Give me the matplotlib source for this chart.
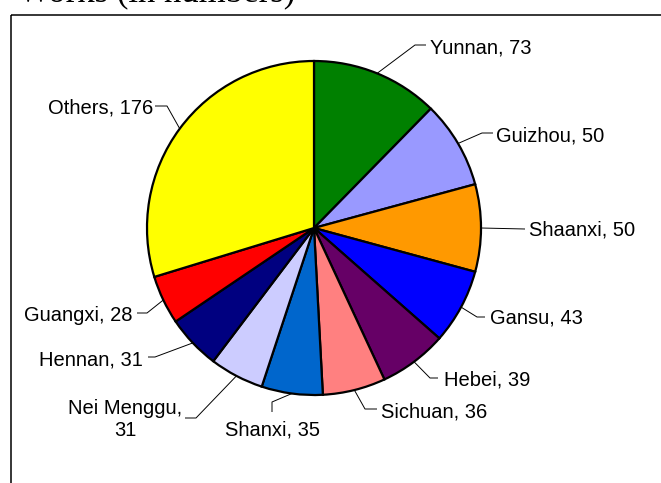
import matplotlib
matplotlib.use("Agg")
import matplotlib.pyplot as plt
from matplotlib.patches import Rectangle
import numpy as np

# ---- data ----
provinces = ["Yunnan", "Guizhou", "Shaanxi", "Gansu", "Hebei", "Sichuan",
             "Shanxi", "Nei Menggu", "Hennan", "Guangxi", "Others"]
counts = [73, 50, 50, 43, 39, 36, 35, 31, 31, 28, 176]
colors = ["#008000", "#9999FF", "#FF9900", "#0000FF", "#660066", "#FF8080",
          "#0066CC", "#CCCCFF", "#000080", "#FF0000", "#FFFF00"]
label_texts = ["Yunnan, 73", "Guizhou, 50", "Shaanxi, 50", "Gansu, 43", "Hebei, 39",
               "Sichuan, 36", "Shanxi, 35", "Nei Menggu,\n31", "Hennan, 31",
               "Guangxi, 28", "Others, 176"]

W, H = 661, 483
fig = plt.figure(figsize=(W / 100, H / 100), dpi=100)
ax = fig.add_axes([0, 0, 1, 1])

def P(x, y):
    return (x, H - y)

cx, cy, R = 314, 228, 167
wedges, _ = ax.pie(counts, colors=colors, startangle=90, counterclock=False,
                   center=P(cx, cy), radius=R, frame=True,
                   wedgeprops=dict(edgecolor="black", linewidth=1.6))
ax.set_xlim(0, W)
ax.set_ylim(0, H)
ax.set_aspect("auto")
ax.axis("off")

# ---- label layout (pixel coords, y downward): elbow, end of leader, text anchor, alignment ----
layout = [
    ((415, 45), (426, 45), (430, 46.5), "left"),
    ((482, 133), (493, 133), (496, 134), "left"),
    (None, (525, 229), (529, 229), "left"),
    ((477, 317), (485, 317), (490, 317), "left"),
    ((430, 378), (438, 378), (444, 378), "left"),
    ((365, 409), (377, 409), (381, 410), "left"),
    ((272, 402), (272, 412), (272.5, 429), "center"),
    ((196, 418), (185, 418), (125.5, 419.5), "center"),
    ((155, 357), (148, 357), (143, 358), "right"),
    ((147, 313), (137, 313), (133, 314), "right"),
    ((167, 106), (155, 106), (153, 106), "right"),
]

font = dict(family=["Liberation Sans", "DejaVu Sans"], size=14.5, color="black")
total = float(sum(counts))
cum = 0.0
for val, txt, (elbow, end, tpos, ha) in zip(counts, label_texts, layout):
    mid = (cum + val / 2.0) / total * 2 * np.pi
    cum += val
    ex = cx + R * np.sin(mid)
    ey = cy - R * np.cos(mid)
    pts = [(ex, ey)]
    if elbow is not None:
        pts.append(elbow)
    pts.append(end)
    xs = [p[0] for p in pts]
    ys = [H - p[1] for p in pts]
    ax.plot(xs, ys, color="black", linewidth=0.7, solid_capstyle="butt")
    if "\n" in txt:
        ax.text(tpos[0], H - tpos[1], txt, ha=ha, va="center", multialignment="center",
                linespacing=1.15, **font)
    else:
        ax.text(tpos[0], H - tpos[1] - 7, txt, ha=ha, va="baseline", **font)

# chart area border (extends beyond the image)
ax.add_patch(Rectangle(P(11, 15), 700, -(H + 40), fill=False, edgecolor="black",
                       linewidth=1.1, clip_on=False))

# title (mostly cut off at the top of the image)
ax.text(18, H - 2, "Works (in numbers)", ha="left", va="baseline",
        family=["Liberation Serif", "DejaVu Serif"], size=25, color="black")

fig.savefig("out.png", dpi=100)
